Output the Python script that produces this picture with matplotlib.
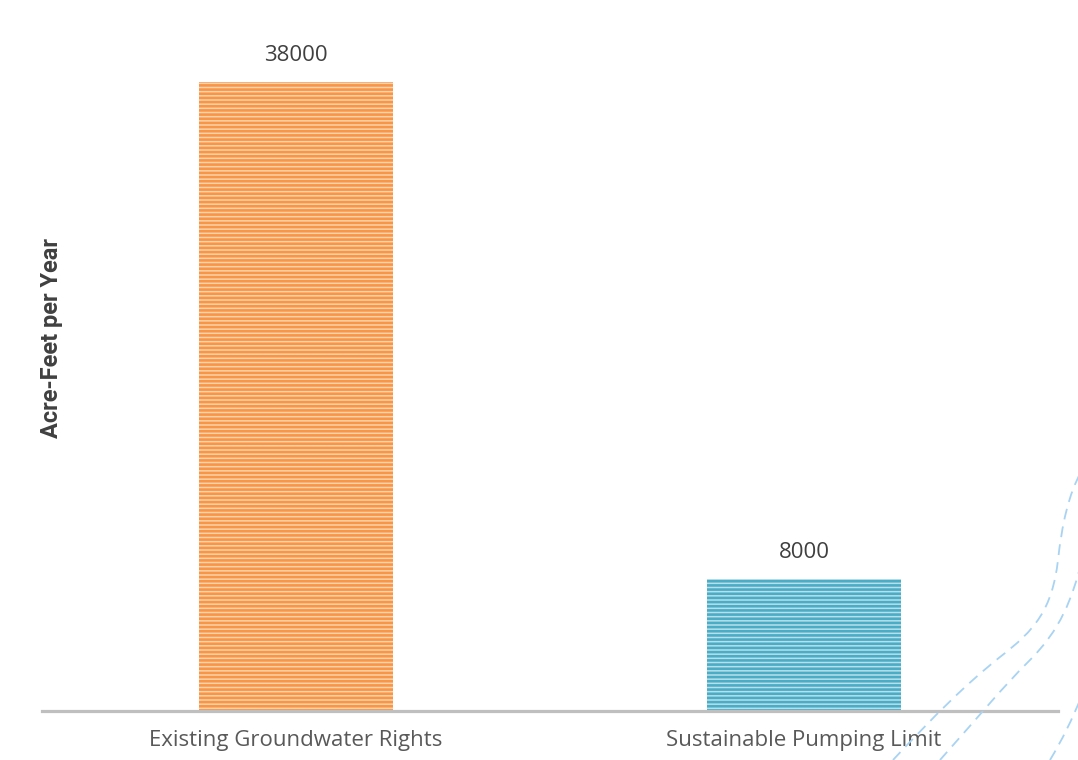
import matplotlib
matplotlib.use("Agg")
import matplotlib.pyplot as plt
from matplotlib.path import Path
from matplotlib.patches import PathPatch

# chart data
categories = ["Existing Groundwater Rights", "Sustainable Pumping Limit"]
values     = [38000, 8000]
bar_dark   = ["#f79646", "#4bacc6"]
bar_light  = ["#fcd3ae", "#b9e0ea"]
y_label    = "Acre-Feet per Year"

plt.rcParams["hatch.linewidth"] = 1.9

W, H = 1078, 760
fig = plt.figure(figsize = (W / 100, H / 100), dpi = 100)
ax  = fig.add_axes([42 / W, 1 - 711 / H, (1058 - 42) / W, (711 - 49) / H])

# striped bars: light face with dense horizontal hatch in the darker tone
for i, (cat, val) in enumerate(zip(categories, values)):
    ax.bar(i, val, width = 0.382, facecolor = bar_light[i], edgecolor = bar_dark[i],
           linewidth = 0, hatch = "----")
    ax.text(i, val + 950, f"{val}", ha = "center", va = "bottom",
            fontsize = 16, color = "#404040", family = "Open Sans")

ax.set_xlim(-0.5, 1.5)
ax.set_ylim(0, 40000)
ax.set_xticks(range(len(categories)))
ax.set_xticklabels(categories, fontsize = 16, color = "#595959", family = "Open Sans")
ax.tick_params(axis = "x", length = 0, pad = 14)
ax.set_yticks([])
for side in ["top", "left", "right"]:
    ax.spines[side].set_visible(False)
ax.spines["bottom"].set_color("#bfbfbf")
ax.spines["bottom"].set_linewidth(2.3)

fig.text(52 / W, 1 - 338 / H, y_label, rotation = 90, ha = "center", va = "center",
         fontsize = 17, fontweight = "bold", color = "#404040", family = "Roboto")

# decorative dashed swirls in the lower right corner (figure pixel coordinates)
swirls = [
    [(893, 760), (935, 715), (965, 685), (1000, 657), (1035, 630), (1052, 610), (1058, 560),
     (1062, 525), (1068, 495), (1082, 470)],
    [(940, 760), (980, 715), (1000, 690), (1030, 660), (1060, 630), (1072, 600), (1082, 560)],
    [(1050, 760), (1062, 740), (1072, 720), (1082, 695)],
]
for pts in swirls:
    pts_fig = [(x / W, 1 - y / H) for x, y in pts]
    codes = [Path.MOVETO] + [Path.CURVE4] * (len(pts_fig) - 1)
    path = Path(pts_fig, codes)
    fig.patches.append(PathPatch(path, transform = fig.transFigure, facecolor = "none",
                                 edgecolor = "#a9d3f2", linewidth = 1.3, linestyle = (0, (6, 4))))

fig.savefig("out.png", dpi = 100)
